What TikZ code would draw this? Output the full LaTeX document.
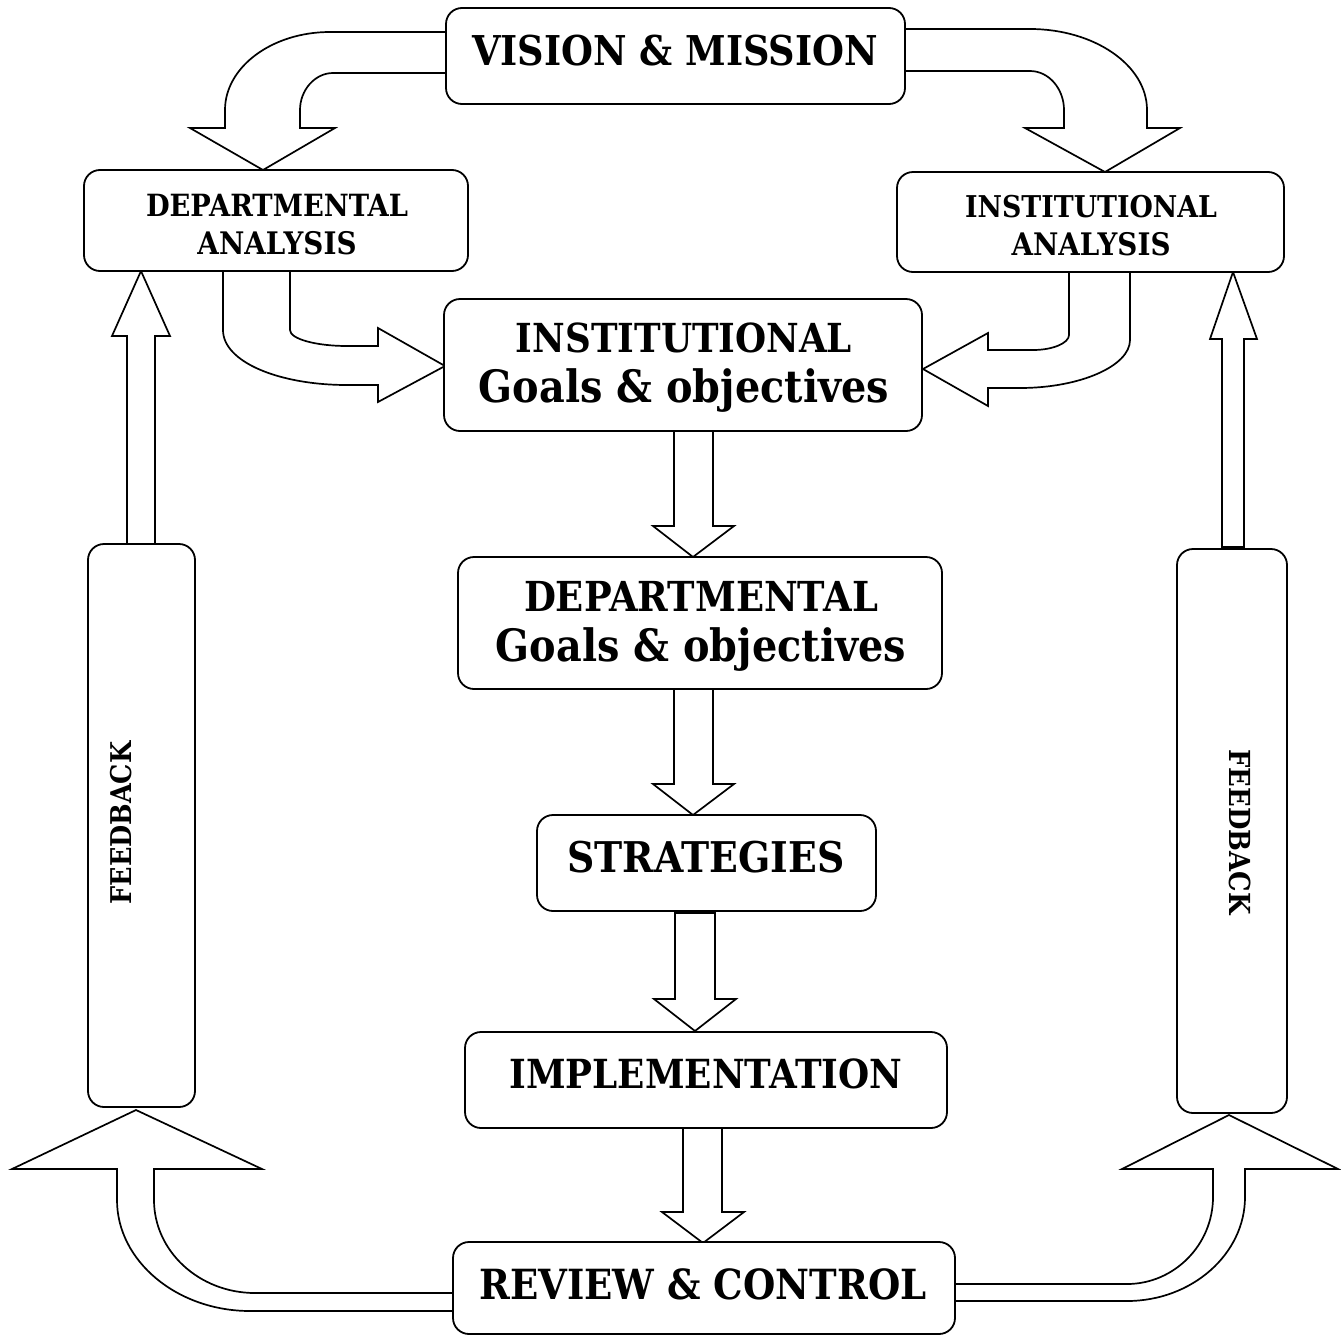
\documentclass[tikz,border=0pt]{standalone}
\usepackage{fontspec}
\setmainfont{DejaVu Serif}
\usepackage{graphicx}
\newcommand\fw[2]{\scalebox{1}[1.12]{\resizebox{#1pt}{!}{\bfseries #2}}}
\begin{document}
\begin{tikzpicture}[x=1pt,y=-1pt,
  box/.style={draw, line width=1.8pt, rounded corners=16pt, fill=white, inner sep=0pt, align=center},
  barrow/.style={draw, line width=1.7pt, fill=white, line join=miter},
  lbl/.style={inner sep=0pt, align=center, font=\fontsize{30}{40}\selectfont}
]
\useasboundingbox (0,0) rectangle (1341,1336);

% ---- block arrows (drawn first, boxes on top) ----
% top left: vision -> departmental analysis
\draw[barrow] (447,32) -- (330,32) .. controls (272,32) and (225,67) .. (225,110)
  -- (225,128) -- (190,128) -- (263,170) -- (335,128) -- (300,128) -- (300,110)
  .. controls (300,90) and (315,73) .. (333,73) -- (447,73) -- cycle;
% top right: vision -> institutional analysis
\draw[barrow] (904,29) -- (1030,29) .. controls (1094,29) and (1147,65) .. (1147,110)
  -- (1147,128) -- (1180,128) -- (1105,172) -- (1025,128) -- (1064,128) -- (1064,110)
  .. controls (1064,89) and (1049,71) .. (1030,71) -- (904,71) -- cycle;
% departmental analysis -> institutional goals
\draw[barrow] (223,271) -- (223,330) .. controls (223,362) and (279,385) .. (347,385)
  -- (378,385) -- (378,402) -- (445,366) -- (378,328) -- (378,346) -- (347,346)
  .. controls (316,346) and (290,339) .. (290,330) -- (290,271) -- cycle;
% institutional analysis -> institutional goals
\draw[barrow] (1069,272) -- (1069,335) .. controls (1069,343) and (1053,350) .. (1033,350)
  -- (988,350) -- (988,333) -- (923,369) -- (988,406) -- (988,388) -- (1020,388)
  .. controls (1080,388) and (1130,366) .. (1130,340) -- (1130,272) -- cycle;
% central down arrows
\draw[barrow] (674,431) -- (674,526) -- (653,526) -- (693,557) -- (734,526) -- (713,526) -- (713,431) -- cycle;
\draw[barrow] (674,689) -- (674,784) -- (653,784) -- (693,815) -- (734,784) -- (713,784) -- (713,689) -- cycle;
\draw[barrow] (675,913) -- (675,999) -- (654,999) -- (695,1031) -- (736,999) -- (715,999) -- (715,913) -- cycle;
\draw[barrow] (683,1127) -- (683,1212) -- (662,1212) -- (703,1243) -- (744,1212) -- (722,1212) -- (722,1127) -- cycle;
% feedback up arrows
\draw[barrow] (127,545) -- (127,336) -- (112,336) -- (141,271) -- (170,336) -- (155,336) -- (155,545) -- cycle;
\draw[barrow] (1222,547) -- (1222,339) -- (1210,339) -- (1233,272) -- (1257,339) -- (1244,339) -- (1244,547) -- cycle;
% review -> left feedback
\draw[barrow] (454,1293) -- (255,1293) .. controls (199,1293) and (154,1251) .. (154,1200)
  -- (154,1169) -- (262,1169) -- (136,1110) -- (12,1169) -- (117,1169) -- (117,1200)
  .. controls (117,1261) and (177,1311) .. (250,1311) -- (454,1311) -- cycle;
% review -> right feedback
\draw[barrow] (954,1284) -- (1127,1284) .. controls (1174,1284) and (1213,1245) .. (1213,1197)
  -- (1213,1169) -- (1122,1169) -- (1229,1115) -- (1338,1169) -- (1245,1169) -- (1245,1197)
  .. controls (1245,1254) and (1192,1301) .. (1127,1301) -- (954,1301) -- cycle;

% ---- boxes ----
\node[box, minimum width=459pt, minimum height=96pt] (vm) at (675.5,56) {};
\node[lbl] (vmt) at (675,51) {\fw{406}{VISION \& MISSION}};
\node[box, minimum width=384pt, minimum height=101pt] (da) at (276,220.5) {};
\node[lbl] (dat) at (277,225) {\fw{262}{DEPARTMENTAL}\\[-2pt]\fw{159}{ANALYSIS}};
\node[box, minimum width=387pt, minimum height=100pt] (ia) at (1090.5,222) {};
\node[lbl] (iat) at (1091,226) {\fw{252}{INSTITUTIONAL}\\[-2pt]\fw{159}{ANALYSIS}};
\node[box, minimum width=478pt, minimum height=132pt] (ig) at (683,365) {};
\node[lbl, font=\fontsize{30}{50}\selectfont] (igt) at (684,368) {\fw{336}{INSTITUTIONAL}\\\fw{410}{Goals \& objectives}};
\node[box, minimum width=484pt, minimum height=132pt] (dg) at (700,623) {};
\node[lbl, font=\fontsize{30}{50}\selectfont] (dgt) at (701,626) {\fw{354}{DEPARTMENTAL}\\\fw{410}{Goals \& objectives}};
\node[box, minimum width=339pt, minimum height=96pt] (st) at (706.5,863) {};
\node[lbl] (stt) at (706,857) {\fw{277}{STRATEGIES}};
\node[box, minimum width=482pt, minimum height=96pt] (im) at (706,1080) {};
\node[lbl] (imt) at (706,1074) {\fw{393}{IMPLEMENTATION}};
\node[box, minimum width=502pt, minimum height=92pt] (rc) at (704,1288) {};
\node[lbl] (rct) at (703,1284) {\fw{447}{REVIEW \& CONTROL}};
\node[box, minimum width=107pt, minimum height=563pt] (fl) at (141.5,825.5) {};
\node[lbl, rotate=90] (flt) at (121,823) {\fw{163}{FEEDBACK}};
\node[box, minimum width=110pt, minimum height=564pt] (fr) at (1232,831) {};
\node[lbl, rotate=-90] (frt) at (1240,832) {\fw{165}{FEEDBACK}};
\end{tikzpicture}
\end{document}
